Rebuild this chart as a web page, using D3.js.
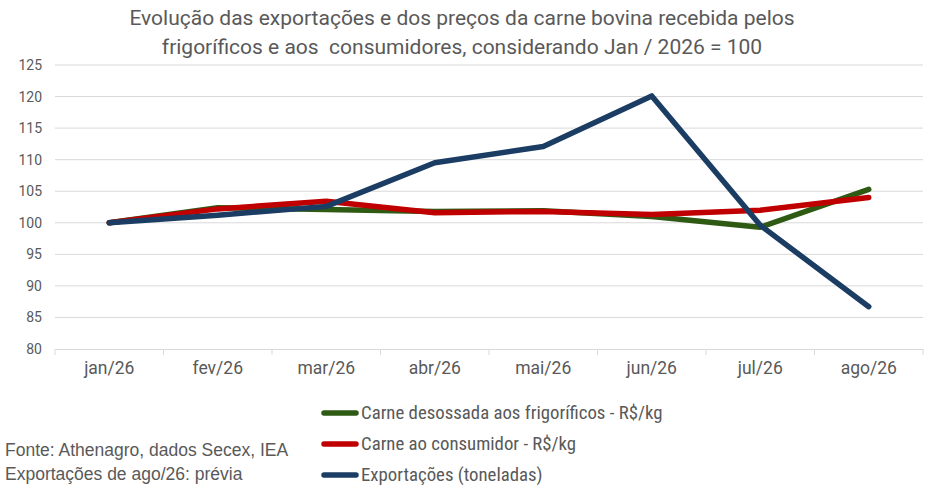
<!DOCTYPE html>
<html><head><meta charset="utf-8">
<script src="https://cdn.jsdelivr.net/npm/d3@7"></script>
<style>body{margin:0;background:#fff}svg{display:block}</style>
</head><body>
<svg id="c" width="945" height="497"></svg>
<script>
const categories = ["jan/26","fev/26","mar/26","abr/26","mai/26","jun/26","jul/26","ago/26"];
const frigorificos = [100,102.4,102.1,101.8,101.9,101.0,99.3,105.3];
const consumidor = [100,102.2,103.4,101.6,101.8,101.3,102.0,104.0];
const exportacoes = [100,101.2,102.6,109.5,112.1,120.1,99.6,86.7];
const yTicks = [80,85,90,95,100,105,110,115,120,125];
const seriesNames = ["Carne desossada aos frigoríficos - R$/kg","Carne ao consumidor - R$/kg","Exportações (toneladas)"];
const seriesColors = ["#2f5a14","#c00000","#1b3d63"];
const titleLines = ["Evolução das exportações e dos preços da carne bovina recebida pelos","frigoríficos e aos  consumidores, considerando Jan / 2026 = 100"];
const notes = ["Fonte: Athenagro, dados Secex, IEA","Exportações de ago/26: prévia"];

const svg = d3.select("#c");
const L=55,R=923,T=65,B=349;
const x = d3.scaleBand().domain(categories).range([L,R]);
const y = d3.scaleLinear().domain([80,125]).range([B,T]);
const txt="#595959";

svg.append("g").selectAll("line").data(yTicks.filter(d=>d>80)).join("line")
 .attr("x1",L).attr("x2",R).attr("y1",d=>y(d)).attr("y2",d=>y(d))
 .attr("stroke","#d9d9d9").attr("stroke-width",1);

const yAxis = svg.append("g").attr("transform",`translate(${L},0)`)
 .call(d3.axisLeft(y).tickValues(yTicks).tickSize(0).tickPadding(13));
yAxis.select(".domain").remove();
yAxis.selectAll("text").attr("fill",txt).style("font-family","Roboto, sans-serif").style("font-size","14px");

const xAxis = svg.append("g").attr("transform",`translate(0,${B})`)
 .call(d3.axisBottom(x).tickSize(0).tickPadding(13));
xAxis.select(".domain").attr("stroke","#d9d9d9");
xAxis.selectAll("text").attr("fill",txt).style("font-family","Roboto, sans-serif").style("font-size","17.5px");
svg.append("g").selectAll("line").data(categories.concat([null])).join("line")
 .attr("x1",(d,i)=>L+i*x.step()).attr("x2",(d,i)=>L+i*x.step())
 .attr("y1",B).attr("y2",B+6).attr("stroke","#d9d9d9");

const line = d3.line().x((d,i)=>x(categories[i])+x.bandwidth()/2).y(d=>y(d));
[frigorificos,consumidor,exportacoes].forEach((s,k)=>{
 svg.append("path").datum(s).attr("d",line).attr("fill","none")
  .attr("stroke",seriesColors[k]).attr("stroke-width",5.5)
  .attr("stroke-linejoin","round").attr("stroke-linecap","round");
});

svg.append("g").selectAll("text").data(titleLines).join("text")
 .attr("x",462).attr("y",(d,i)=>25+i*29).attr("text-anchor","middle")
 .attr("fill",txt).style("white-space","pre").style("font-family","Roboto, sans-serif").style("font-size","21px").text(d=>d);

const lg = svg.append("g");
seriesNames.forEach((n,i)=>{
 const yy=413+i*31;
 lg.append("line").attr("x1",324).attr("x2",356).attr("y1",yy).attr("y2",yy)
  .attr("stroke",seriesColors[i]).attr("stroke-width",5.5).attr("stroke-linecap","round");
 lg.append("text").attr("x",361).attr("y",yy+6).attr("fill",txt)
  .style("font-family","'Liberation Sans Narrow', 'Roboto Condensed', sans-serif").style("font-size","18.8px").text(n);
});
svg.append("g").selectAll("text").data(notes).join("text")
 .attr("x",5).attr("y",(d,i)=>456+i*24).attr("fill",txt)
 .style("font-family","'Liberation Sans Narrow', sans-serif").style("font-size","17.5px").text(d=>d);
</script>
</body></html>
